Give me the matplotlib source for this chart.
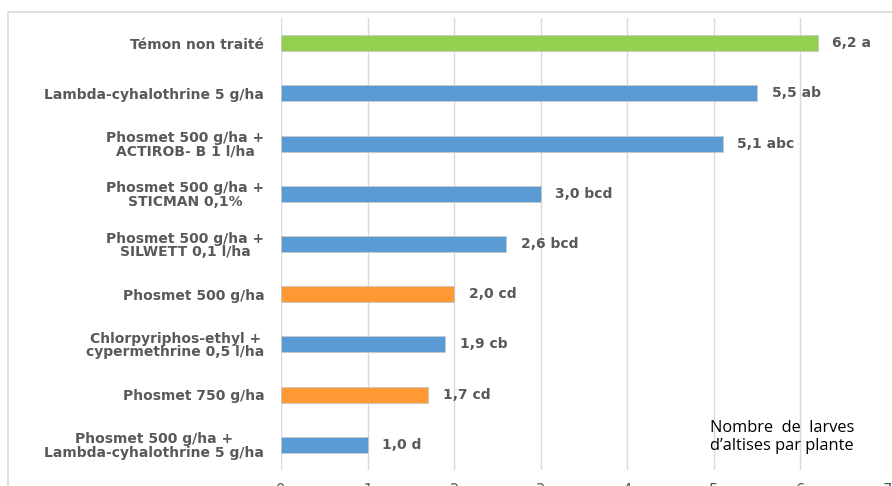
import matplotlib.pyplot as plt
from matplotlib.patches import Rectangle

# treatments, top to bottom
traitements = [
    "Témon non traité",
    "Lambda-cyhalothrine 5 g/ha",
    "Phosmet 500 g/ha +\nACTIROB- B 1 l/ha",
    "Phosmet 500 g/ha +\nSTICMAN 0,1%",
    "Phosmet 500 g/ha +\nSILWETT 0,1 l/ha",
    "Phosmet 500 g/ha",
    "Chlorpyriphos-ethyl +\ncypermethrine 0,5 l/ha",
    "Phosmet 750 g/ha",
    "Phosmet 500 g/ha +\nLambda-cyhalothrine 5 g/ha",
]
larves = [6.2, 5.5, 5.1, 3.0, 2.6, 2.0, 1.9, 1.7, 1.0]
groupes = ["a", "ab", "abc", "bcd", "bcd", "cd", "cb", "cd", "d"]
couleurs = ["#92D050", "#5B9BD5", "#5B9BD5", "#5B9BD5", "#5B9BD5",
            "#FF9933", "#5B9BD5", "#FF9933", "#5B9BD5"]
ticks_x = [0, 1, 2, 3, 4, 5, 6, 7]

gris = "#595959"

fig = plt.figure(figsize=(8.92, 4.86), dpi=100)
ax = fig.add_axes([281 / 892, 1 - 470 / 486, 606 / 892, 452 / 486])

y = list(range(len(traitements)))
ax.barh(y, larves, height=0.32, color=couleurs, edgecolor="#C8C8C8",
        linewidth=0.6, zorder=3)

for yi, v, g in zip(y, larves, groupes):
    ax.text(v + 0.17, yi, f"{v:.1f}".replace(".", ",") + " " + g,
            va="center", ha="left", fontsize=10, fontweight="bold",
            color=gris, family="DejaVu Sans")

ax.set_ylim(len(traitements) - 0.5, -0.5)
ax.set_xlim(0, 7)
ax.set_xticks(ticks_x)
ax.set_xticklabels([str(t) for t in ticks_x])
ax.set_yticks(y)
ax.set_yticklabels(traitements, fontsize=10, fontweight="bold", color=gris,
                   family="DejaVu Sans", linespacing=0.95)
for lab in ax.get_yticklabels():
    lab.set_multialignment("center")
ax.tick_params(axis="y", length=0, pad=12)
ax.tick_params(axis="x", length=0, pad=9, labelsize=10.5, labelcolor=gris)

ax.grid(axis="x", color="#D9D9D9", linewidth=1, zorder=0)
for s in ax.spines.values():
    s.set_visible(False)

ax.text(0.827, 0.073, "Nombre  de  larves\nd\u2019altises par plante",
        transform=ax.transAxes, ha="center", va="center", fontsize=11.8,
        color="black", family="Open Sans", linespacing=1.2)

# outer frame around the chart
fig.patches.append(Rectangle((8 / 892, -0.1), 1.0, 1 - 12 / 486 + 0.1,
                             transform=fig.transFigure, fill=False,
                             edgecolor="#D9D9D9", linewidth=1.2))

fig.savefig("out.png", dpi=100)
